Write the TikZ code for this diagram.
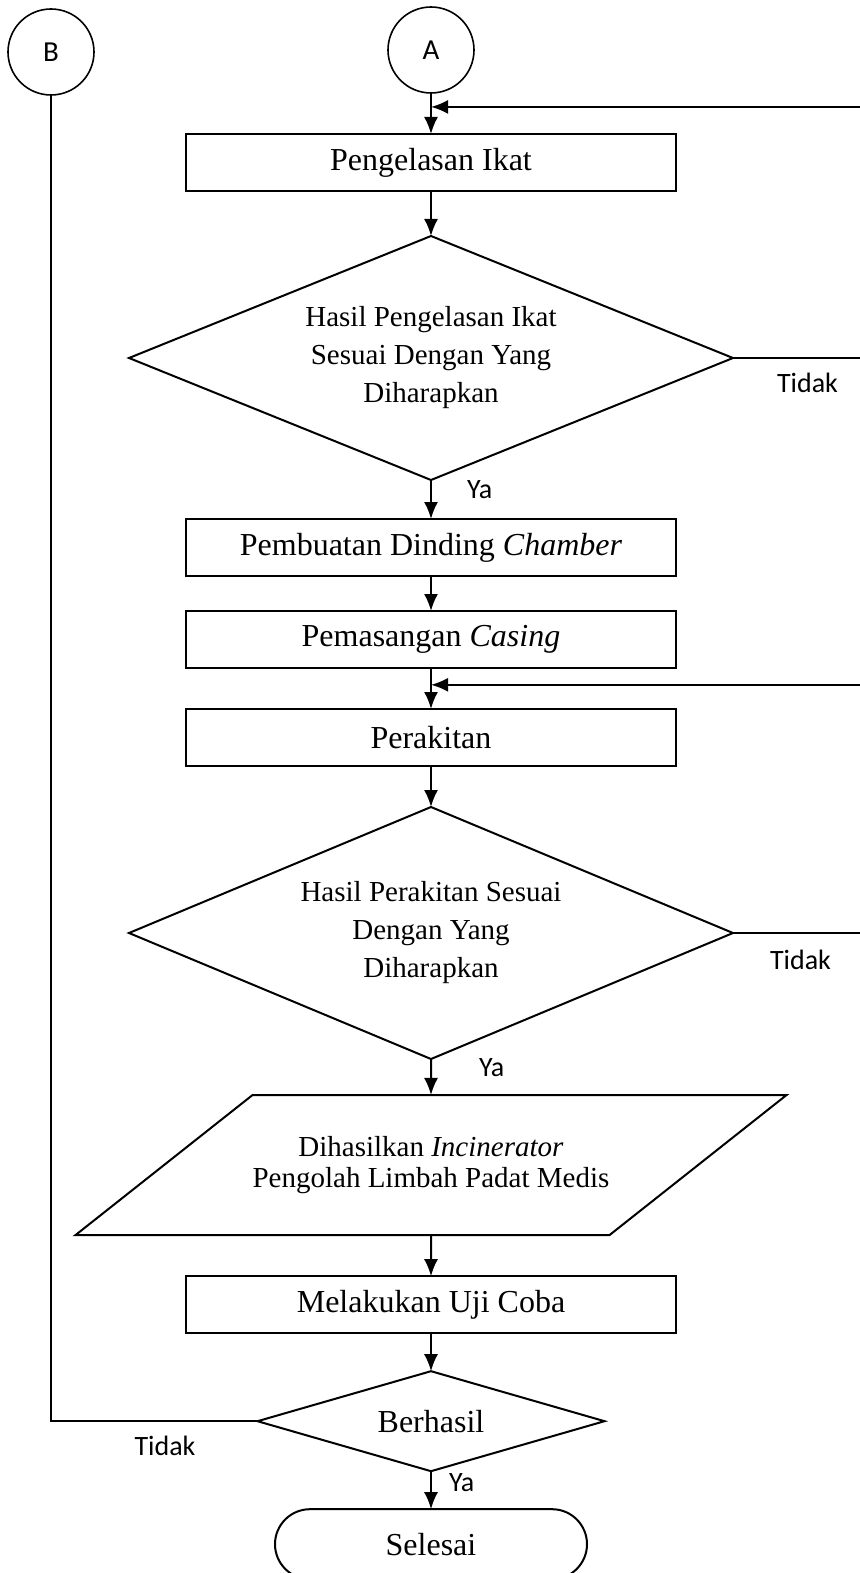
\documentclass[tikz,border=0pt]{standalone}
\usepackage{fontspec}
\setmainfont{Liberation Serif}
\newfontfamily\lblfont{Carlito}
\usetikzlibrary{positioning,calc,shapes.geometric,arrows.meta}

\tikzset{
  procbox/.style={draw, line width=1pt, minimum width=245pt, minimum height=28.5pt,
    font=\fontsize{16}{18}\selectfont},
  decision/.style={draw, diamond, line width=1pt, aspect=2.5, align=center,
    font=\fontsize{14.5}{19}\selectfont},
  iobox/.style={draw, trapezium, trapezium left angle=38.35, trapezium right angle=141.65,
    trapezium stretches body, line width=1pt, minimum width=353.5pt, inner ysep=20.7pt,
    align=center, font=\fontsize{14.5}{15.5}\selectfont},
  termbox/.style={draw, rounded corners=17.5pt, line width=1pt, minimum width=156pt,
    minimum height=35pt, font=\fontsize{16}{18}\selectfont},
  joint/.style={draw, circle, line width=0.8pt, minimum size=43pt,
    font=\lblfont\fontsize{14.5}{16}\selectfont},
  lbl/.style={font=\lblfont\fontsize{14}{16}\selectfont},
  flowline/.style={line width=1pt, -{Latex[length=8.5pt,width=7pt]}},
}

\begin{document}
\begin{tikzpicture}[x=0.5pt, y=-0.5pt, every node/.style={inner sep=0pt, outer sep=0pt}]
  \useasboundingbox (0,0) rectangle (860,1573);
  \node[joint] (cB) at (51,52) {B};
  \node[joint] (cA) at (431,50) {A};
  \node[procbox] (p1) [below=20.5pt of cA] {Pengelasan Ikat};
  \node[decision, minimum width=302pt, minimum height=122pt] (d1) [below=22.5pt of p1]
    {Hasil Pengelasan Ikat\\Sesuai Dengan Yang\\Diharapkan};
  \node[procbox] (p2) [below=19.5pt of d1] {Pembuatan Dinding \textit{Chamber}};
  \node[procbox] (p3) [below=17.5pt of p2] {Pemasangan \textit{Casing}};
  \node[procbox] (p4) [below=20.5pt of p3] {Perakitan};
  \node[decision, minimum width=302pt, minimum height=126pt] (d2) [below=20.5pt of p4]
    {Hasil Perakitan Sesuai\\Dengan Yang\\Diharapkan};
  \node[iobox] (io) [below=18pt of d2] {Dihasilkan \textit{Incinerator}\\Pengolah Limbah Padat Medis};
  \node[procbox] (p5) [below=20.5pt of io] {Melakukan Uji Coba};
  \node[decision, aspect=3.5, minimum width=173.5pt, minimum height=50pt,
    font=\fontsize{16}{18}\selectfont] (d3) [below=19pt of p5] {Berhasil};
  \node[termbox] (end) [below=19pt of d3] {Selesai};

  % labels
  \node[lbl] (ya1) [below right=0.5pt and 18pt of d1.south] {Ya};
  \node[lbl] (ya2) [below right=0pt and 24pt of d2.south] {Ya};
  \node[lbl] (ya3) [below right=1pt and 9pt of d3.south] {Ya};
  \node[lbl] (no1) [below right=7.5pt and 22pt of d1.east] {Tidak};
  \node[lbl] (no2) [below right=8.5pt and 18.5pt of d2.east] {Tidak};
  \node[lbl] (no3) [below left=7.5pt and 31pt of d3.west] {Tidak};

  % main flow
  \draw[flowline] (cA) -- (p1);
  \draw[flowline] (p1) -- (d1);
  \draw[flowline] (d1) -- (p2);
  \draw[flowline] (p2) -- (p3);
  \draw[flowline] (p3) -- (p4);
  \draw[flowline] (p4) -- (d2);
  \draw[flowline] (d2) -- (io);
  \draw[flowline] (io) -- (p5);
  \draw[flowline] (p5) -- (d3);
  \draw[flowline] (d3) -- (end);

  % back loops on the right edge
  \coordinate (rx) at (864,0);
  \coordinate (m1) at ($(cA.south)!0.34!(p1.north)$);
  \coordinate (m2) at ($(p3.south)!0.41!(p4.north)$);
  \draw[flowline] (d1.east) -| (m1 -| rx) -- (m1);
  \draw[flowline] (d2.east) -| (m2 -| rx) -- (m2);
  \draw[line width=1pt] (d3.west) -| (cB.south);
\end{tikzpicture}
\end{document}
